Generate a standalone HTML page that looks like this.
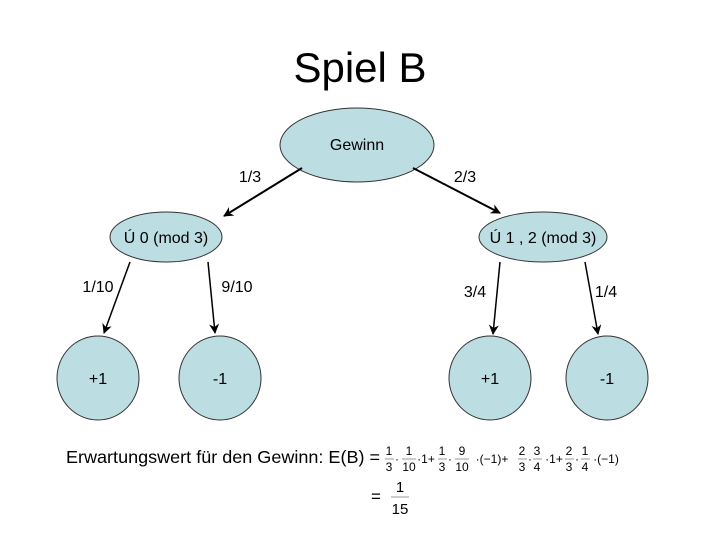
<!DOCTYPE html>
<html><head><meta charset="utf-8"><style>
html,body{margin:0;padding:0;background:#fff;}
svg{display:block;font-family:"Liberation Sans",Arial,sans-serif;}
</style></head><body>
<svg width="720" height="540" viewBox="0 0 720 540" xmlns="http://www.w3.org/2000/svg">
<defs><marker id="a" markerWidth="10" markerHeight="10" refX="9" refY="5" orient="auto" markerUnits="userSpaceOnUse"><path d="M0,0 L10,5 L0,10 L3,5 Z" fill="#000"/></marker></defs>
<text x="360" y="82" font-size="42" text-anchor="middle">Spiel B</text>
<g fill="#bcdde2" stroke="#333" stroke-width="1">
<ellipse cx="357" cy="145" rx="77" ry="37"/>
<ellipse cx="166" cy="237" rx="56" ry="25"/>
<ellipse cx="543" cy="237" rx="64" ry="25"/>
<ellipse cx="98" cy="378" rx="41" ry="42"/>
<ellipse cx="220" cy="378" rx="41" ry="42"/>
<ellipse cx="490" cy="378" rx="41" ry="42"/>
<ellipse cx="607" cy="378" rx="41" ry="42"/>
</g>
<g stroke="#000" stroke-width="2" marker-end="url(#a)">
<line x1="302" y1="168" x2="224" y2="216"/>
<line x1="413" y1="168" x2="500" y2="213"/>
</g>
<g stroke="#000" stroke-width="1.5" marker-end="url(#a)">
<line x1="130" y1="262" x2="104" y2="333"/>
<line x1="208" y1="262" x2="215" y2="333"/>
<line x1="500" y1="262" x2="493" y2="334"/>
<line x1="585" y1="262" x2="598" y2="334"/>
</g>
<g font-size="16" text-anchor="middle">
<text x="357" y="150">Gewinn</text>
<text x="166" y="243">Ú 0 (mod 3)</text>
<text x="543" y="243">Ú 1 , 2 (mod 3)</text>
<text x="250" y="182">1/3</text>
<text x="465" y="182">2/3</text>
<text x="98" y="292">1/10</text>
<text x="237" y="292">9/10</text>
<text x="475" y="297">3/4</text>
<text x="606" y="297">1/4</text>
<text x="98" y="384">+1</text>
<text x="220" y="384">-1</text>
<text x="490" y="384">+1</text>
<text x="607" y="384">-1</text>
<text x="66" y="463" text-anchor="start" font-size="17.5" textLength="314" lengthAdjust="spacingAndGlyphs">Erwartungswert für den Gewinn: E(B) =</text>
<text x="376" y="502" font-size="17">=</text>
<text x="400" y="492" font-size="15">1</text>
<line x1="391" y1="497" x2="409" y2="497" stroke="#999"/>
<text x="400" y="514" font-size="15">15</text>
</g>
<g font-family="Liberation Sans,sans-serif" font-size="12" text-anchor="middle">
<text x="389" y="455">1</text><text x="389" y="471">3</text><line x1="385" y1="459" x2="394" y2="459" stroke="#999"/>
<text x="397" y="463">·</text>
<text x="409" y="455">1</text><text x="409" y="471">10</text><line x1="402" y1="459" x2="416" y2="459" stroke="#999"/>
<text x="426" y="463">·1+</text>
<text x="442" y="455">1</text><text x="442" y="471">3</text><line x1="438" y1="459" x2="447" y2="459" stroke="#999"/>
<text x="450" y="463">·</text>
<text x="462" y="455">9</text><text x="462" y="471">10</text><line x1="455" y1="459" x2="469" y2="459" stroke="#999"/>
<text x="492" y="463">·(−1)+</text>
<text x="522" y="455">2</text><text x="522" y="471">3</text><line x1="518" y1="459" x2="527" y2="459" stroke="#999"/>
<text x="530" y="463">·</text>
<text x="537" y="455">3</text><text x="537" y="471">4</text><line x1="533" y1="459" x2="542" y2="459" stroke="#999"/>
<text x="554" y="463">·1+</text>
<text x="569" y="455">2</text><text x="569" y="471">3</text><line x1="565" y1="459" x2="574" y2="459" stroke="#999"/>
<text x="577" y="463">·</text>
<text x="585" y="455">1</text><text x="585" y="471">4</text><line x1="581" y1="459" x2="590" y2="459" stroke="#999"/>
<text x="606" y="463">·(−1)</text>
</g>
</svg>
</body></html>
